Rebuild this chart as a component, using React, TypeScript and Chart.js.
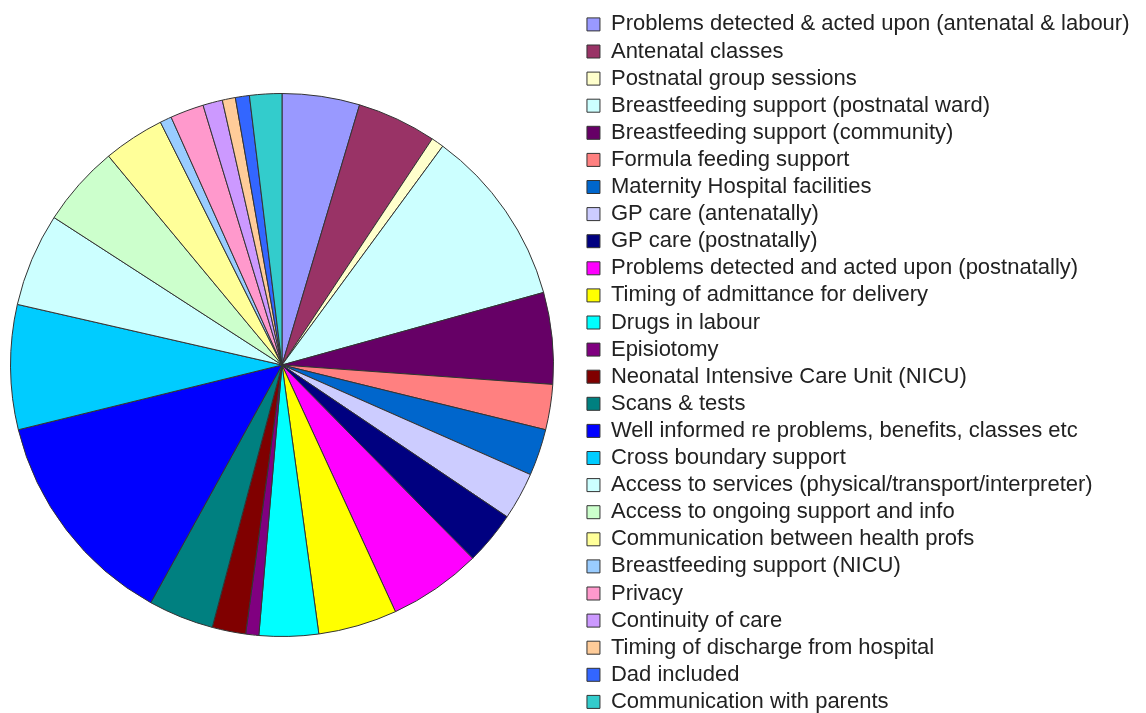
import React, { useEffect, useRef } from "react";
import { Chart, registerables } from "chart.js";

Chart.register(...registerables);

const categories = [
  "Problems detected & acted upon (antenatal & labour)",
  "Antenatal classes",
  "Postnatal group sessions",
  "Breastfeeding support (postnatal ward)",
  "Breastfeeding support (community)",
  "Formula feeding support",
  "Maternity Hospital facilities",
  "GP care (antenatally)",
  "GP care (postnatally)",
  "Problems detected and acted upon (postnatally)",
  "Timing of admittance for delivery",
  "Drugs in labour",
  "Episiotomy",
  "Neonatal Intensive Care Unit (NICU)",
  "Scans & tests",
  "Well informed re problems, benefits, classes etc",
  "Cross boundary support",
  "Access to services (physical/transport/interpreter)",
  "Access to ongoing support and info",
  "Communication between health profs",
  "Breastfeeding support (NICU)",
  "Privacy",
  "Continuity of care",
  "Timing of discharge from hospital",
  "Dad included",
  "Communication with parents",
];

const values = [
  16.6, 17.0, 2.7, 38.2, 19.6, 9.7, 10.0, 10.2, 11.4, 19.9, 16.9, 12.7, 2.8,
  7.2, 14.0, 47.3, 26.7, 20.0, 17.4, 13.1, 2.5, 7.2, 4.2, 2.8, 3.0, 6.9,
];

const colors = [
  "#9999FF", "#993366", "#FFFFCC", "#CCFFFF", "#660066", "#FF8080",
  "#0066CC", "#CCCCFF", "#000080", "#FF00FF", "#FFFF00", "#00FFFF",
  "#800080", "#800000", "#008080", "#0000FF", "#00CCFF", "#CCFFFF",
  "#CCFFCC", "#FFFF99", "#99CCFF", "#FF99CC", "#CC99FF", "#FFCC99",
  "#3366FF", "#33CCCC",
];

const pieArea = {
  id: "pieArea",
  afterLayout(chart: any) {
    const a = chart.chartArea;
    a.left = 10;
    a.right = 554;
    a.top = 93;
    a.bottom = 637;
    a.width = 544;
    a.height = 544;
  },
};

export default function App() {
  const ref = useRef<HTMLCanvasElement | null>(null);
  useEffect(() => {
    if (!ref.current) return;
    const chart = new Chart(ref.current, {
      type: "pie",
      data: {
        labels: categories,
        datasets: [
          {
            data: values,
            backgroundColor: colors,
            borderColor: "#333333",
            borderWidth: 1,
            clip: false as any,
          },
        ],
      },
      options: {
        animation: false,
        responsive: false,
        devicePixelRatio: 1,
        layout: { padding: { left: 0, top: 0, right: 6.5, bottom: -5 } },
        plugins: {
          tooltip: { enabled: false },
          legend: {
            position: "right",
            align: "end",
            labels: {
              boxWidth: 13,
              boxHeight: 13,
              padding: 5.1,
              color: "#222222",
              font: { family: "'Liberation Sans', Arial, sans-serif", size: 22 },
            },
          },
        },
      },
      plugins: [pieArea],
    });
    return () => chart.destroy();
  }, []);
  return (
    <div style={{ position: "absolute", left: 0, top: 0, width: 1146, height: 713, background: "#fff" }}>
      <canvas ref={ref} width={1146} height={713} style={{ width: 1146, height: 713 }} />
    </div>
  );
}
